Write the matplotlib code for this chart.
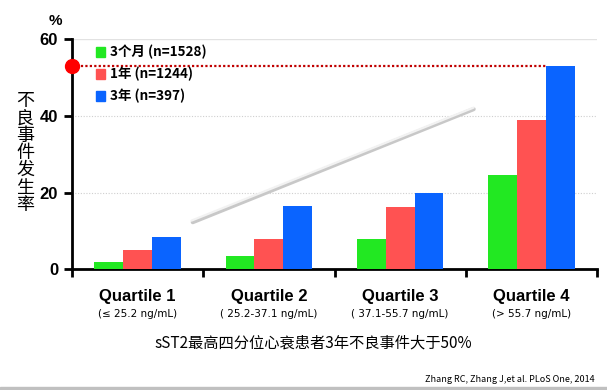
import numpy as np
import matplotlib.pyplot as plt
from matplotlib.patches import Rectangle
import matplotlib.transforms as mtransforms

plt.rcParams['font.family'] = ['Noto Sans CJK SC', 'DejaVu Sans']

# data
quartiles = ['Quartile 1', 'Quartile 2', 'Quartile 3', 'Quartile 4']
ranges = ['(≤ 25.2 ng/mL)', '( 25.2-37.1 ng/mL)', '( 37.1-55.7 ng/mL)', '(> 55.7 ng/mL)']
series_names = ['3个月 (n=1528)', '1年 (n=1244)', '3年 (n=397)']
m3 = [1.8, 3.6, 7.8, 24.6]
y1 = [5.0, 8.0, 16.2, 38.9]
y3 = [8.5, 16.5, 20.0, 53.1]
colors = ['#22E822', '#FF5252', '#0A64FF']

fig = plt.figure(figsize=(6.07, 3.9), dpi=100)
ax = fig.add_axes([0.1186, 0.3095, 0.865, 0.5895])

x = np.arange(len(quartiles))
w = 0.22
for i, (vals, c) in enumerate(zip([m3, y1, y3], colors)):
    ax.bar(x + (i - 1) * w, vals, w, color=c, zorder=3)

ax.set_xlim(-0.5, 3.5)
ax.set_ylim(0, 60)

# grid
ax.axhline(60, color='#e2e2e2', lw=1, zorder=1)
for g in [20, 40]:
    ax.axhline(g, color='#cfcfcf', lw=0.8, ls=(0, (1, 1.5)), zorder=1)

# red dotted line at the highest value
top = max(y3)
ax.plot([-0.5, x[-1] + w / 2], [top, top], color='#C00000', lw=1.6,
        ls=(0, (1, 1)), zorder=4)
ax.plot([-0.5], [top], 'o', color='#FF0000', ms=10, clip_on=False, zorder=5)

# decorative trend line with shadow
ax.plot([0.42, 2.56], [12.3, 41.8], color='#c8c8c8', lw=3, solid_capstyle='round', zorder=2)
ax.plot([0.41, 2.56], [12.7, 42.2], color='#f2f2f2', lw=1.6, solid_capstyle='round', zorder=2)

# spines/ticks
for s in ['top', 'right']:
    ax.spines[s].set_visible(False)
ax.spines['left'].set_linewidth(2)
ax.spines['bottom'].set_linewidth(2)
ax.set_yticks([0, 20, 40, 60])
ax.set_yticklabels(['0', '20', '40', '60'], fontsize=12, fontweight='bold',
                   family=['Liberation Sans', 'DejaVu Sans'])
ax.tick_params(axis='y', length=6, width=2, pad=4)
ax.set_xticks([-0.5, 0.5, 1.5, 2.5, 3.5])
ax.set_xticklabels([])
ax.tick_params(axis='x', length=6, width=2, direction='out')

trans = mtransforms.blended_transform_factory(ax.transData, fig.transFigure)
for xi, q, r in zip(x, quartiles, ranges):
    ax.text(xi, 1 - 297 / 390, q, transform=trans, ha='center', va='center',
            fontsize=12, fontweight='bold', family=['Liberation Sans', 'DejaVu Sans'])
    ax.text(xi, 1 - 314 / 390, r, transform=trans, ha='center', va='center',
            fontsize=7.5, family=['DejaVu Sans'])

# legend (manual)
for i, (name, c) in enumerate(zip(series_names, colors)):
    yy = 1 - (52 + i * 22) / 390
    fig.patches.append(Rectangle((96 / 607, yy - 4.5 / 390), 9 / 607, 9 / 390,
                                 transform=fig.transFigure, color=c, figure=fig))
    fig.text(110 / 607, yy, name, ha='left', va='center', fontsize=9.7,
             fontweight='bold', family=['Noto Sans CJK SC', 'DejaVu Sans'])

fig.text(55 / 607, 1 - 21 / 390, '%', ha='center', va='center', fontsize=11,
         fontweight='bold', family=['Liberation Sans', 'DejaVu Sans'])
fig.text(25 / 607, 1 - 153 / 390, '\n'.join('不良事件发生率'), ha='center', va='center',
         fontsize=13, fontweight='medium', linespacing=0.95)

fig.text(313 / 607, 1 - 343 / 390, 'sST2最高四分位心衰患者3年不良事件大于50%',
         ha='center', va='center', fontsize=11)
fig.text(595 / 607, 1 - 380 / 390, 'Zhang RC, Zhang J,et al. PLoS One, 2014',
         ha='right', va='center', fontsize=6.5)

fig.patches.append(Rectangle((0, 0), 1, 3 / 390, transform=fig.transFigure,
                             color='#c0c0c0', figure=fig))

fig.savefig('out.png', dpi=100)
